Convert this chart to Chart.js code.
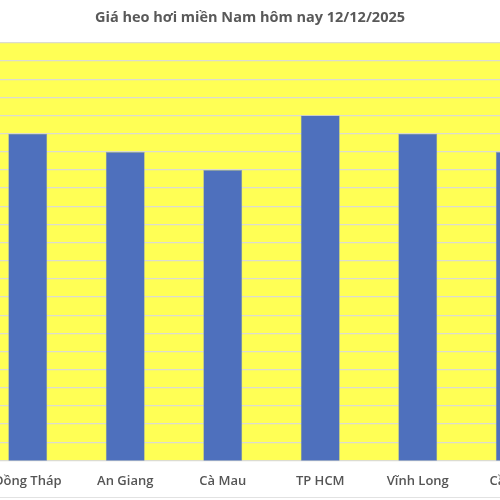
<!DOCTYPE html>
<html>
<head>
<meta charset="utf-8">
<script src="https://cdn.jsdelivr.net/npm/chart.js@4.4.0/dist/chart.umd.min.js"></script>
<style>
  html, body { margin: 0; padding: 0; background: #fff; }
  #wrap { position: relative; width: 500px; height: 500px; overflow: hidden; }
  #box { position: absolute; left: -64px; top: 0; width: 628px; height: 500px; }
  #cells { position: absolute; left: 0; top: 497px; width: 500px; height: 3px;
           border-top: 1px solid #e2e2e2; }
</style>
</head>
<body>
<div id="wrap">
  <div id="box"><canvas id="canvas"></canvas></div>
  <div id="cells"></div>
</div>
<script>
// gia heo hoi mien Nam, dong/kg
var provinces = ["Đồng Tháp", "An Giang", "Cà Mau", "TP HCM", "Vĩnh Long", "Cần Thơ"];
var prices = [58000, 57000, 56000, 59000, 58000, 57000];
var yMin = 40000;
var yMax = 63000;
var yStep = 1000;

// to mau nen vung ve
var plotBg = {
    id: 'plotBg',
    beforeDraw: function (chart) {
        var a = chart.chartArea;
        var ctx = chart.ctx;
        ctx.save();
        ctx.fillStyle = '#ffff55';
        ctx.fillRect(a.left, a.top, a.right - a.left, a.bottom - a.top);
        ctx.restore();
    }
};

const ctx = document.getElementById('canvas');

new Chart(ctx, {
    type: 'bar',
    data: {
        labels: provinces,
        datasets: [{
            label: 'Giá heo hơi',
            data: prices,
            backgroundColor: '#4e70bd',
            borderColor: '#9aa6a8',
            borderWidth: 0.6,
            barPercentage: 0.4,
            categoryPercentage: 1
        }]
    },
    options: {
        responsive: true,
        maintainAspectRatio: false,
        animation: false,
        layout: { padding: { left: 0, right: 0, top: 0, bottom: -2 } },
        plugins: {
            legend: { display: false },
            tooltip: { enabled: false },
            title: {
                display: true,
                text: 'Giá heo hơi miền Nam hôm nay 12/12/2025',
                color: '#595959',
                font: { family: 'Open Sans', size: 14.5, weight: 'bold' },
                padding: { top: 9, bottom: 16.5 }
            }
        },
        scales: {
            x: {
                grid: { display: false, drawTicks: false },
                border: { display: false },
                ticks: {
                    color: '#555555',
                    font: { family: 'Open Sans', size: 13, weight: '600' },
                    padding: 13,
                    maxRotation: 0,
                    autoSkip: false
                }
            },
            y: {
                min: yMin,
                max: yMax,
                grid: { color: '#dcdcd0', lineWidth: 1.3, drawTicks: false },
                border: { display: false },
                ticks: { display: false, stepSize: yStep },
                afterFit: function (scale) { scale.width = 43; }
            }
        }
    },
    plugins: [plotBg]
});
</script>
</body>
</html>
